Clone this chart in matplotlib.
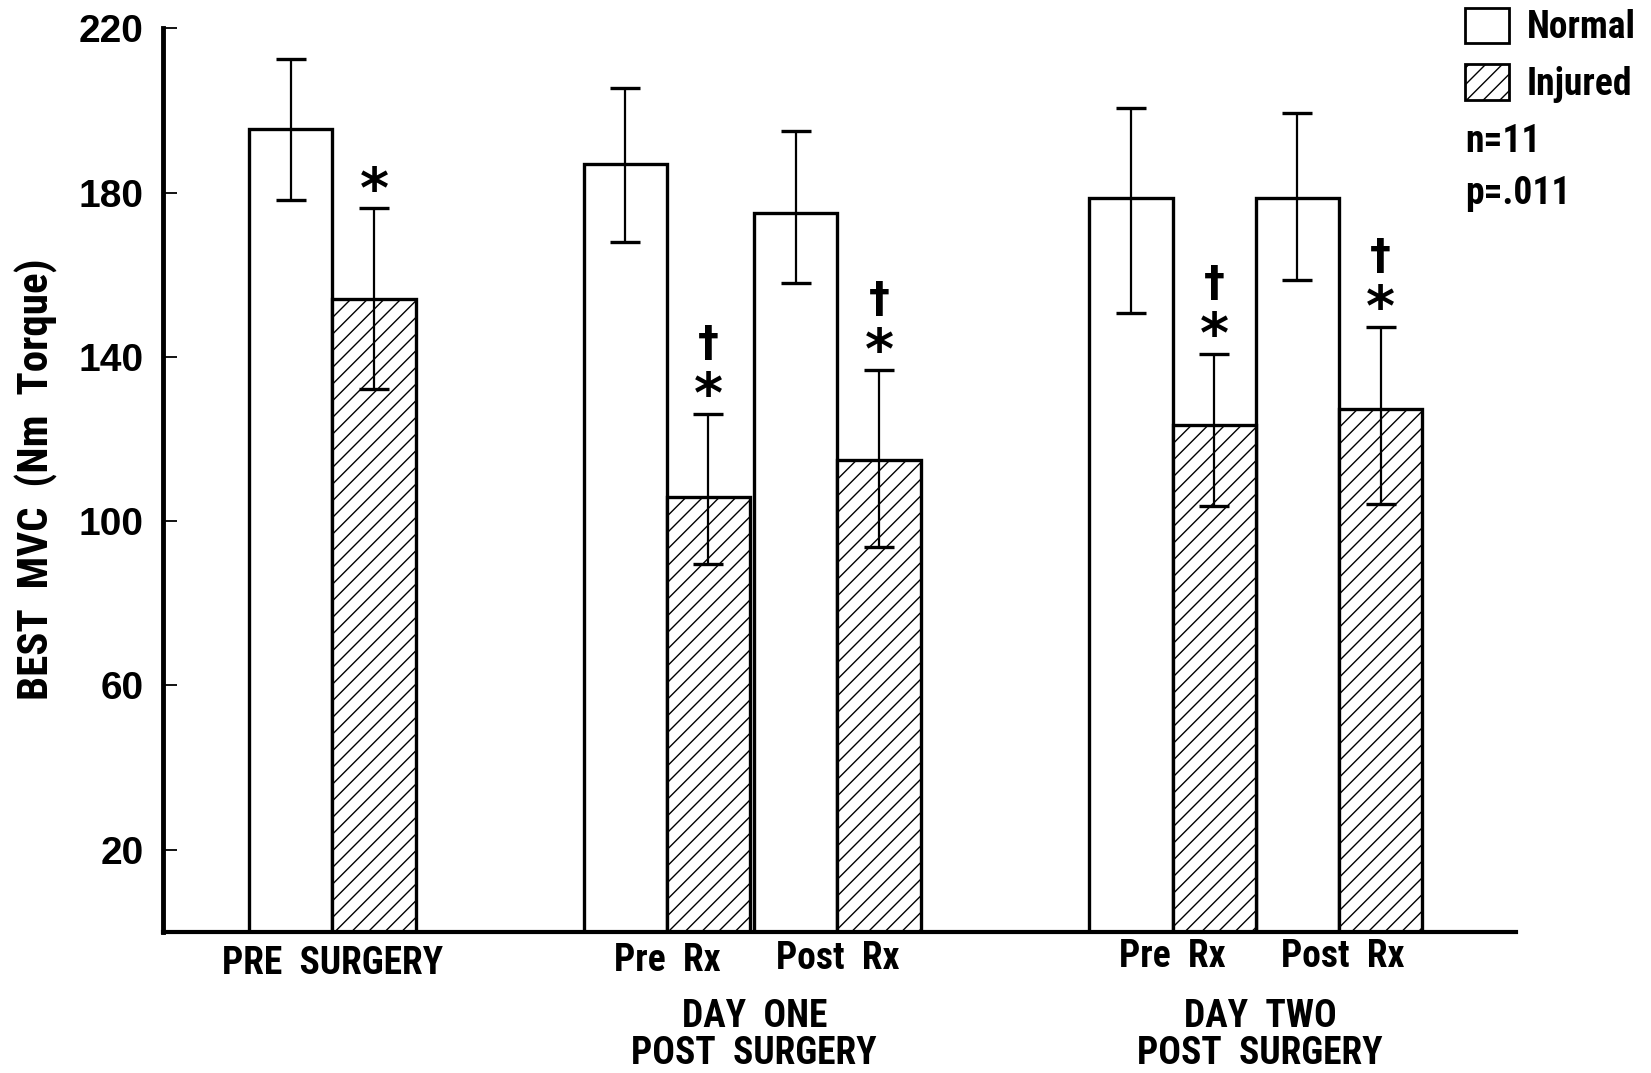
import matplotlib
matplotlib.use("Agg")
import matplotlib.pyplot as plt
from matplotlib.patches import Patch

NARROW = ["Liberation Sans Narrow", "Roboto Condensed", "Open Sans Condensed",
          "DejaVu Sans"]
WIDE = ["Liberation Sans", "DejaVu Sans"]

# values
normal_mean = [195.6, 186.9, 175.1, 178.7, 178.7]
normal_hi = [212.6, 205.6, 194.9, 200.5, 199.5]
normal_lo = [178.2, 167.9, 157.9, 150.8, 158.7]
injured_mean = [154.1, 105.9, 114.9, 123.3, 127.4]
injured_hi = [176.2, 126.2, 136.9, 140.8, 147.4]
injured_lo = [132.3, 89.5, 93.8, 103.8, 104.1]
marks = ["*", "†*", "†*", "†*", "†*"]

sub_labels = ["PRE  SURGERY", "Pre  Rx", "Post  Rx", "Pre  Rx", "Post  Rx"]
day_labels = ["DAY  ONE\nPOST  SURGERY", "DAY  TWO\nPOST  SURGERY"]
yticks = [20, 60, 100, 140, 180, 220]

plt.rcParams["hatch.linewidth"] = 1.0

fig = plt.figure(figsize=(16.51, 10.73), dpi=100)
ax = fig.add_axes([0.0987, 0.1317, 0.8195, 0.8418])

x_norm = [3.5, 7.52, 9.57, 13.6, 15.6]
x_inj = [x + 1.0 for x in x_norm]

err_n = [[m - lo for m, lo in zip(normal_mean, normal_lo)],
         [hi - m for m, hi in zip(normal_mean, normal_hi)]]
err_i = [[m - lo for m, lo in zip(injured_mean, injured_lo)],
         [hi - m for m, hi in zip(injured_mean, injured_hi)]]

ekw = dict(elinewidth=1.6, capthick=2.4, ecolor="black")
ax.bar(x_norm, normal_mean, width=1.0, color="white", edgecolor="black",
       linewidth=2.4, yerr=err_n, capsize=11, error_kw=ekw, zorder=2)
ax.bar(x_inj, injured_mean, width=1.0, color="white", edgecolor="black",
       linewidth=2.4, hatch="//", yerr=err_i, capsize=11, error_kw=ekw,
       zorder=2)

# significance marks above injured error bars
for x, top, m in zip(x_inj, injured_hi, marks):
    ax.text(x, top + 0.3, "*", ha="center", va="baseline", fontsize=40,
            fontweight="bold", family="DejaVu Sans")
    if "†" in m:
        ax.text(x, top + 14.1, "†", ha="center", va="baseline", fontsize=30,
                fontweight="bold", family="DejaVu Sans")

ax.set_xlim(1.962, 18.228)
ax.set_ylim(0, 220)
ax.spines["top"].set_visible(False)
ax.spines["right"].set_visible(False)
ax.spines["left"].set_linewidth(3.5)
ax.spines["bottom"].set_linewidth(3.0)
ax.set_xticks([])
ax.set_yticks(yticks)
ax.tick_params(axis="y", direction="in", length=10, width=1.3, pad=14)
for lab in ax.get_yticklabels():
    lab.set_family(WIDE)
    lab.set_fontweight("bold")
    lab.set_fontsize(28)

txt = dict(fontweight="bold", family=NARROW, fontstretch="condensed")

# category labels below the axis
sub_x = [4.0, 8.03, 10.08, 14.1, 16.15]
sub_y = [-7.7, -7.0, -6.6, -6.1, -6.1]
for x, y, s in zip(sub_x, sub_y, sub_labels):
    ax.text(x, y, s, ha="center", va="center", fontsize=27, clip_on=False,
            **txt)
for x, s in zip([9.07, 15.15], day_labels):
    ax.text(x, -25.2, s, ha="center", va="center", fontsize=27,
            linespacing=0.98, clip_on=False, **txt)

fig.text(0.0223, 0.5536, "BEST  MVC  (Nm  Torque)", rotation=90,
         ha="center", va="center", fontsize=31, **txt)

handles = [
    Patch(facecolor="white", edgecolor="black", linewidth=2.0),
    Patch(facecolor="white", edgecolor="black", linewidth=2.0, hatch="//"),
]
leg = fig.legend(handles, ["Normal", "Injured"], loc="upper left",
                 bbox_to_anchor=(1465 / 1651, 1 - 8 / 1073),
                 frameon=False, borderpad=0, borderaxespad=0,
                 handlelength=1.17, handleheight=1.07, handletextpad=0.48,
                 labelspacing=0.48,
                 prop=dict(family=NARROW, weight="bold", size=27,
                           stretch="condensed"))

fig.text(1465 / 1651, 1 - 142 / 1073, "n=11", ha="left", va="center",
         fontsize=27, **txt)
fig.text(1465 / 1651, 1 - 193 / 1073, "p=.011", ha="left", va="center",
         fontsize=27, **txt)

fig.savefig("out.png", dpi=100)
